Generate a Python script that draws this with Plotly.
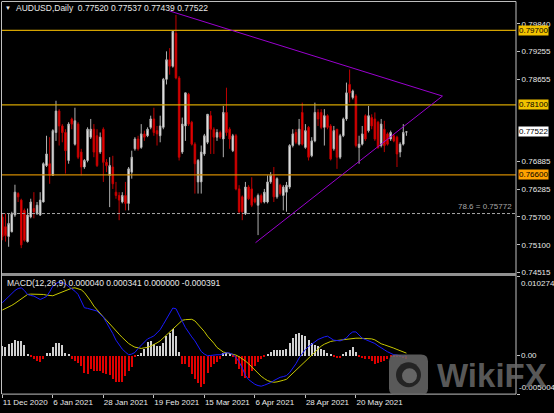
import pandas as pd
import plotly.graph_objects as go

W, H = 554, 413

# ---------------- data ----------------
open_ = [
    0.7570, 0.7549, 0.7528, 0.7538, 0.7574, 0.7620, 0.7606, 0.7584, 0.7517, 0.7570,
    0.7588, 0.7577, 0.7574, 0.7602, 0.7680, 0.7684, 0.7659, 0.7751, 0.7797, 0.7765,
    0.7751, 0.7691, 0.7780, 0.7726, 0.7769, 0.7709, 0.7677, 0.7691, 0.7741, 0.7758,
    0.7744, 0.7709, 0.7758, 0.7687, 0.7659, 0.7677, 0.7623, 0.7616, 0.7602, 0.7616,
    0.7599, 0.7666, 0.7716, 0.7737, 0.7719, 0.7748, 0.7744, 0.7762, 0.7780, 0.7755,
    0.7744, 0.7762, 0.7865, 0.7907, 0.7893, 0.7964, 0.7868, 0.7709, 0.7765, 0.7833,
    0.7773, 0.7726, 0.7645, 0.7645, 0.7705, 0.7730, 0.7787, 0.7758, 0.7741, 0.7751,
    0.7737, 0.7794, 0.7758, 0.7712, 0.7744, 0.7630, 0.7613, 0.7577, 0.7634, 0.7630,
    0.7609, 0.7595, 0.7616, 0.7602, 0.7602, 0.7645, 0.7659, 0.7613, 0.7638, 0.7616,
    0.7623, 0.7634, 0.7723, 0.7751, 0.7726, 0.7794, 0.7719, 0.7762, 0.7701, 0.7733,
    0.7794, 0.7794, 0.7762, 0.7787, 0.7765, 0.7716, 0.7758, 0.7698, 0.7744, 0.7780,
    0.7854, 0.7826, 0.7829, 0.7719, 0.7726, 0.7787, 0.7755, 0.7783, 0.7780, 0.7773,
    0.7723, 0.7758, 0.7748, 0.7737, 0.7744, 0.7741, 0.7709, 0.7726, 0.77520,
]
high_ = [
    0.7577, 0.7577, 0.7577, 0.7581, 0.7639, 0.7623, 0.7609, 0.7588, 0.7588, 0.7609,
    0.7623, 0.7602, 0.7623, 0.7687, 0.7744, 0.7741, 0.7758, 0.7819, 0.7801, 0.7769,
    0.7758, 0.7773, 0.7783, 0.7804, 0.7773, 0.7716, 0.7694, 0.7762, 0.7780, 0.7769,
    0.7758, 0.7751, 0.7762, 0.7694, 0.7698, 0.7701, 0.7645, 0.7623, 0.7623, 0.7645,
    0.7677, 0.7712, 0.7741, 0.7744, 0.7769, 0.7755, 0.7762, 0.7787, 0.7804, 0.7765,
    0.7787, 0.7868, 0.7925, 0.7932, 0.7968, 0.8003, 0.7872, 0.7783, 0.7836, 0.7836,
    0.7776, 0.7730, 0.7694, 0.7723, 0.7748, 0.7790, 0.7797, 0.7762, 0.7758, 0.7755,
    0.7808, 0.7847, 0.7762, 0.7748, 0.7748, 0.7638, 0.7616, 0.7645, 0.7638, 0.7655,
    0.7613, 0.7620, 0.7620, 0.7630, 0.7659, 0.7666, 0.7677, 0.7655, 0.7641, 0.7638,
    0.7645, 0.7726, 0.7758, 0.7758, 0.7780, 0.7815, 0.7769, 0.7765, 0.7741, 0.7815,
    0.7801, 0.7801, 0.7801, 0.7790, 0.7769, 0.7765, 0.7758, 0.7748, 0.7783, 0.7858,
    0.7886, 0.7843, 0.7833, 0.7744, 0.7765, 0.7790, 0.7808, 0.7790, 0.7794, 0.7776,
    0.7780, 0.7776, 0.7751, 0.7755, 0.7748, 0.7744, 0.7730, 0.7769, 0.77537,
]
low_ = [
    0.7520, 0.7517, 0.7506, 0.7537, 0.7570, 0.7602, 0.7503, 0.7517, 0.7515, 0.7567,
    0.7567, 0.7574, 0.7572, 0.7601, 0.7677, 0.7641, 0.7658, 0.7733, 0.7723, 0.7730,
    0.7663, 0.7684, 0.7758, 0.7723, 0.7694, 0.7659, 0.7673, 0.7687, 0.7737, 0.7698,
    0.7677, 0.7705, 0.7645, 0.7666, 0.7591, 0.7630, 0.7609, 0.7563, 0.7599, 0.7584,
    0.7584, 0.7652, 0.7712, 0.7712, 0.7716, 0.7733, 0.7741, 0.7758, 0.7744, 0.7723,
    0.7730, 0.7758, 0.7854, 0.7875, 0.7890, 0.7865, 0.7691, 0.7705, 0.7733, 0.7765,
    0.7723, 0.7620, 0.7620, 0.7620, 0.7701, 0.7726, 0.7705, 0.7705, 0.7733, 0.7737,
    0.7698, 0.7744, 0.7716, 0.7709, 0.7627, 0.7577, 0.7563, 0.7574, 0.7606, 0.7591,
    0.7599, 0.7531, 0.7599, 0.7599, 0.7599, 0.7641, 0.7602, 0.7609, 0.7616, 0.7584,
    0.7581, 0.7630, 0.7719, 0.7726, 0.7723, 0.7723, 0.7716, 0.7691, 0.7698, 0.7730,
    0.7765, 0.7758, 0.7723, 0.7758, 0.7691, 0.7712, 0.7673, 0.7694, 0.7741, 0.7776,
    0.7815, 0.7822, 0.7719, 0.7684, 0.7723, 0.7733, 0.7751, 0.7758, 0.7733, 0.7716,
    0.7719, 0.7709, 0.7723, 0.7733, 0.7730, 0.7677, 0.7698, 0.7723, 0.77439,
]
close_ = [
    0.7528, 0.7530, 0.7556, 0.7577, 0.7623, 0.7613, 0.7510, 0.7520, 0.7574, 0.7602,
    0.7581, 0.7595, 0.7606, 0.7684, 0.7705, 0.7659, 0.7755, 0.7797, 0.7765, 0.7751,
    0.7712, 0.7769, 0.7769, 0.7776, 0.7698, 0.7677, 0.7691, 0.7758, 0.7758, 0.7709,
    0.7680, 0.7741, 0.7687, 0.7680, 0.7680, 0.7641, 0.7616, 0.7606, 0.7616, 0.7599,
    0.7673, 0.7698, 0.7737, 0.7716, 0.7748, 0.7741, 0.7758, 0.7780, 0.7751, 0.7748,
    0.7765, 0.7865, 0.7907, 0.7893, 0.7968, 0.7868, 0.7698, 0.7769, 0.7836, 0.7769,
    0.7726, 0.7684, 0.7691, 0.7709, 0.7744, 0.7790, 0.7758, 0.7741, 0.7751, 0.7741,
    0.7794, 0.7751, 0.7737, 0.7744, 0.7630, 0.7581, 0.7581, 0.7634, 0.7609, 0.7595,
    0.7602, 0.7616, 0.7602, 0.7623, 0.7645, 0.7659, 0.7613, 0.7652, 0.7620, 0.7634,
    0.7638, 0.7723, 0.7748, 0.7730, 0.7758, 0.7726, 0.7755, 0.7698, 0.7733, 0.7794,
    0.7780, 0.7762, 0.7787, 0.7762, 0.7694, 0.7755, 0.7698, 0.7744, 0.7780, 0.7836,
    0.7836, 0.7840, 0.7723, 0.7726, 0.7748, 0.7737, 0.7787, 0.7765, 0.7737, 0.7719,
    0.7769, 0.7723, 0.7726, 0.7751, 0.7733, 0.7705, 0.7726, 0.7751, 0.77522,
]

macd_hist = [
    0.00130, 0.00117, 0.00151, 0.00173, 0.00203, 0.00199, 0.00194, 0.00138, 0.00013, -0.00013,
    -0.00043, -0.00073, -0.00086, -0.00043, 0.00030, 0.00030, 0.00117, 0.00173, 0.00173, 0.00143,
    0.00030, 0.00013, -0.00043, -0.00065, -0.00099, -0.00130, -0.00229, -0.00238, -0.00173, -0.00194,
    -0.00194, -0.00203, -0.00229, -0.00238, -0.00246, -0.00302, -0.00346, -0.00337, -0.00346, -0.00259,
    -0.00194, -0.00151, -0.00022, 0.00009, 0.00030, 0.00086, 0.00186, 0.00194, 0.00151, 0.00130,
    0.00130, 0.00173, 0.00259, 0.00302, 0.00346, 0.00259, 0.00043, -0.00108, -0.00108, -0.00151,
    -0.00238, -0.00302, -0.00359, -0.00410, -0.00367, -0.00229, -0.00151, -0.00108, -0.00086, -0.00043,
    0.00030, 0.00030, 0.00013, -0.00013, -0.00108, -0.00173, -0.00265, -0.00290, -0.00290, -0.00195,
    -0.00130, -0.00086, -0.00043, -0.00013, 0.00013, 0.00043, 0.00073, 0.00073, 0.00073, 0.00073,
    0.00086, 0.00173, 0.00238, 0.00289, 0.00302, 0.00272, 0.00259, 0.00203, 0.00173, 0.00143,
    0.00130, 0.00086, 0.00073, 0.00030, 0.00013, -0.00022, -0.00030, -0.00030, 0.00013, 0.00043,
    0.00073, 0.00117, 0.00043, -0.00013, -0.00030, -0.00043, -0.00043, -0.00073, -0.00108, -0.00100,
    -0.00086, -0.00073, -0.00043, -0.00022, -0.00022, -0.00013, -0.00013, -0.00030, -0.000391,
]
macd_main = [
    0.00691, 0.00734, 0.00773, 0.00812, 0.00851, 0.00877, 0.00886, 0.00851, 0.00799, 0.00786,
    0.00778, 0.00756, 0.00734, 0.00752, 0.00773, 0.00834, 0.00907, 0.00942, 0.00963, 0.00955,
    0.00937, 0.00903, 0.00873, 0.00842, 0.00799, 0.00704, 0.00626, 0.00618, 0.00605, 0.00592,
    0.00583, 0.00540, 0.00505, 0.00432, 0.00367, 0.00289, 0.00203, 0.00143, 0.00086, 0.00048,
    0.00013, 0.00022, 0.00043, 0.00095, 0.00138, 0.00181, 0.00220, 0.00238, 0.00259, 0.00298,
    0.00341, 0.00410, 0.00484, 0.00562, 0.00622, 0.00613, 0.00540, 0.00449, 0.00367, 0.00298,
    0.00246, 0.00194, 0.00121, 0.00056, 0.00022, 0.00000, 0.00004, 0.00013, 0.00013, 0.00013,
    0.00026, 0.00039, 0.00035, 0.00017, -0.00022, -0.00082, -0.00160, -0.00255, -0.00311, -0.00346,
    -0.00372, -0.00389, -0.00397, -0.00384, -0.00372, -0.00350, -0.00324, -0.00302, -0.00281, -0.00272,
    -0.00259, -0.00220, -0.00168, -0.00104, -0.00030, 0.00030, 0.00082, 0.00121, 0.00156, 0.00181,
    0.00212, 0.00233, 0.00246, 0.00255, 0.00229, 0.00203, 0.00199, 0.00194, 0.00212, 0.00233,
    0.00281, 0.00311, 0.00311, 0.00264, 0.00229, 0.00212, 0.00194, 0.00181, 0.00160, 0.00130,
    0.00099, 0.00078, 0.00052, 0.00035, 0.00013, 0.00009, 0.00000, -0.00009, 0.000040,
]
macd_signal = [
    0.00596, 0.00613, 0.00635, 0.00657, 0.00683, 0.00713, 0.00743, 0.00773, 0.00799, 0.00804,
    0.00804, 0.00808, 0.00808, 0.00799, 0.00791, 0.00782, 0.00782, 0.00799, 0.00816, 0.00834,
    0.00851, 0.00868, 0.00881, 0.00886, 0.00877, 0.00860, 0.00825, 0.00773, 0.00713, 0.00648,
    0.00596, 0.00544, 0.00505, 0.00462, 0.00415, 0.00363, 0.00320, 0.00281, 0.00238, 0.00194,
    0.00160, 0.00134, 0.00112, 0.00104, 0.00095, 0.00104, 0.00108, 0.00125, 0.00143, 0.00168,
    0.00194, 0.00233, 0.00272, 0.00311, 0.00354, 0.00397, 0.00436, 0.00462, 0.00471, 0.00475,
    0.00475, 0.00454, 0.00410, 0.00354, 0.00315, 0.00255, 0.00212, 0.00164, 0.00108, 0.00078,
    0.00048, 0.00039, 0.00030, 0.00022, 0.00009, -0.00013, -0.00039, -0.00069, -0.00104, -0.00147,
    -0.00190, -0.00229, -0.00268, -0.00298, -0.00324, -0.00337, -0.00346, -0.00341, -0.00333, -0.00320,
    -0.00307, -0.00268, -0.00229, -0.00186, -0.00147, -0.00104, -0.00065, -0.00022, 0.00017, 0.00056,
    0.00091, 0.00125, 0.00151, 0.00173, 0.00186, 0.00194, 0.00199, 0.00203, 0.00207, 0.00216,
    0.00220, 0.00229, 0.00229, 0.00229, 0.00229, 0.00225, 0.00225, 0.00220, 0.00207, 0.00181,
    0.00156, 0.00143, 0.00125, 0.00112, 0.00099, 0.00082, 0.00065, 0.00048, 0.000341,
]

# trading days (Christmas and New Year holidays skipped)
dates = pd.bdate_range('2020-12-11', '2021-08-31', freq='C',
                       holidays=['2020-12-25', '2021-01-01'])
n_bars = len(close_)
bar_dates = [d.strftime('%Y-%m-%d') for d in dates[:n_bars]]

tick_dates = ['2020-12-11', '2021-01-06', '2021-01-28', '2021-02-19',
              '2021-03-15', '2021-04-06', '2021-04-28', '2021-05-20']
tick_text = ['11 Dec 2020', '6 Jan 2021', '28 Jan 2021', '19 Feb 2021',
             '15 Mar 2021', '6 Apr 2021', '28 Apr 2021', '20 May 2021']

price_ticks = [0.79840, 0.79255, 0.78655, 0.76885, 0.76285, 0.75700, 0.75100, 0.74515]
level_prices = [0.79700, 0.78100, 0.76600]
level_names = ['0.79700', '0.78100', '0.76600']
fib_price = 0.75772
fib_label = '78.6 = 0.75772'
last_price = 0.77522
macd_labels = [0.010274, 0.0, -0.005004]
macd_label_text = ['0.010274', '0.00', '-0.005004']

# triangle trend lines: (bar number, price) anchors
upper_line_x = [52.9, 139.4]
upper_line_y = [0.80117, 0.78291]
lower_line_x = [80.2, 139.4]
lower_line_y = [0.75147, 0.78291]

title_text = 'AUDUSD,Daily  0.77520 0.77537 0.77439 0.77522'
macd_title = 'MACD(12,26,9) 0.000040 0.000341 0.000000 -0.000391'

# ---------------- layout helpers ----------------
def py(px):
    return 1 - px / H

def pxx(px):
    return px / W

X0, X1 = 2, 516
MAIN_T, MAIN_B = 2, 276
MACD_T, MACD_B = 279, 397
FONT = 'Liberation Sans'
FS = 8
GRAY = '#c0c0c0'
TXT = '#e8e8e8'

fig = go.Figure()
fig.add_trace(go.Candlestick(
    x=bar_dates, open=open_, high=high_, low=low_, close=close_,
    xaxis='x', yaxis='y',
    increasing=dict(line=dict(color='#b0b0b0', width=1), fillcolor='#ffffff'),
    decreasing=dict(line=dict(color='#c00000', width=1), fillcolor='#ff0000'),
    whiskerwidth=0, hoverinfo='skip',
))
hist_colors = ['#d0d0d0' if v >= 0 else '#e00000' for v in macd_hist]
fig.add_trace(go.Bar(x=bar_dates, y=macd_hist, marker=dict(color=hist_colors, line=dict(width=0)),
                     width=0.33, xaxis='x', yaxis='y2', hoverinfo='skip'))
fig.add_trace(go.Scatter(x=bar_dates, y=macd_signal, mode='lines',
                         line=dict(color='#c8c800', width=1), xaxis='x', yaxis='y2', hoverinfo='skip'))
fig.add_trace(go.Scatter(x=bar_dates, y=macd_main, mode='lines',
                         line=dict(color='#1a1aff', width=1), xaxis='x', yaxis='y2', hoverinfo='skip'))

shapes = []
level_colors = ['#d4a300', '#d4a300', '#d08a00']
for p, c in zip(level_prices, level_colors):
    shapes.append(dict(type='line', xref='paper', yref='y', x0=pxx(X0), x1=pxx(X1), y0=p, y1=p,
                       line=dict(color=c, width=1.2)))
shapes.append(dict(type='line', xref='paper', yref='y', x0=pxx(X0), x1=pxx(X1), y0=fib_price, y1=fib_price,
                   line=dict(color='#a8a8a8', width=1, dash='3px,2px')))
shapes.append(dict(type='line', xref='x', yref='y', x0=upper_line_x[0], x1=upper_line_x[1],
                   y0=upper_line_y[0], y1=upper_line_y[1], line=dict(color='#9a00d0', width=1)))
shapes.append(dict(type='line', xref='x', yref='y', x0=lower_line_x[0], x1=lower_line_x[1],
                   y0=lower_line_y[0], y1=lower_line_y[1], line=dict(color='#9a00d0', width=1)))

def hline(ypx, x0=X0, x1=X1, color=GRAY, width=1):
    shapes.append(dict(type='line', xref='paper', yref='paper', x0=pxx(x0), x1=pxx(x1),
                       y0=py(ypx), y1=py(ypx), line=dict(color=color, width=width)))

def vline(xpx, y0, y1, color=GRAY, width=1):
    shapes.append(dict(type='line', xref='paper', yref='paper', x0=pxx(xpx), x1=pxx(xpx),
                       y0=py(y0), y1=py(y1), line=dict(color=color, width=width)))

hline(1.5, x1=X1)
vline(1.5, 1.5, 397)
vline(516, 1.5, 397)
hline(276.5, color='#909090', width=3)
hline(397)

# watermark logo: rounded square with a dark ring
def rounded_rect(x0, y0, x1, y1, r):
    X = lambda v: f'{pxx(v):.5f}'
    Y = lambda v: f'{py(v):.5f}'
    return (f'M {X(x0 + r)},{Y(y0)} L {X(x1 - r)},{Y(y0)} Q {X(x1)},{Y(y0)} {X(x1)},{Y(y0 + r)} '
            f'L {X(x1)},{Y(y1 - r)} Q {X(x1)},{Y(y1)} {X(x1 - r)},{Y(y1)} '
            f'L {X(x0 + r)},{Y(y1)} Q {X(x0)},{Y(y1)} {X(x0)},{Y(y1 - r)} '
            f'L {X(x0)},{Y(y0 + r)} Q {X(x0)},{Y(y0)} {X(x0 + r)},{Y(y0)} Z')

shapes.append(dict(type='path', xref='paper', yref='paper', path=rounded_rect(389, 357, 428, 398, 7),
                   fillcolor='rgba(105,105,105,0.85)', line=dict(width=0), layer='above'))
shapes.append(dict(type='circle', xref='paper', yref='paper', x0=pxx(396), x1=pxx(421), y0=py(390), y1=py(365),
                   fillcolor='rgba(30,30,30,0.9)', line=dict(width=0), layer='above'))
shapes.append(dict(type='circle', xref='paper', yref='paper', x0=pxx(402), x1=pxx(417), y0=py(386), y1=py(371),
                   fillcolor='rgba(105,105,105,0.95)', line=dict(width=0), layer='above'))

annotations = []
annotations.append(dict(text='▼', xref='paper', yref='paper', x=pxx(3), y=py(8), xanchor='left',
                        yanchor='middle', showarrow=False, font=dict(family=FONT, size=6, color=TXT)))
annotations.append(dict(text=title_text, xref='paper', yref='paper', x=pxx(14), y=py(8), xanchor='left',
                        yanchor='middle', showarrow=False, font=dict(family=FONT, size=8.5, color=TXT)))
annotations.append(dict(text=macd_title, xref='paper', yref='paper', x=pxx(5), y=py(285), xanchor='left',
                        yanchor='middle', showarrow=False, font=dict(family=FONT, size=8.5, color=TXT)))
annotations.append(dict(text=fib_label, xref='paper', yref='y', x=pxx(514), y=fib_price, xanchor='right',
                        yanchor='bottom', yshift=1, showarrow=False, font=dict(family=FONT, size=FS, color='#a8a8a8')))
box_colors = ['#f2c200', '#f2c200', '#ffa200']
for p, t, c in zip(level_prices, level_names, box_colors):
    annotations.append(dict(text=t, xref='paper', yref='y', x=pxx(518), y=p, xanchor='left', yanchor='middle',
                            showarrow=False, bgcolor=c, borderpad=0,
                            font=dict(family=FONT, size=FS, color='black')))
annotations.append(dict(text=f'{last_price:.5f}', xref='paper', yref='y', x=pxx(518), y=last_price,
                        xanchor='left', yanchor='middle', showarrow=False, bgcolor='white', borderpad=0,
                        font=dict(family=FONT, size=FS, color='black')))
macd_anchor = ['top', 'middle', 'bottom']
macd_label_x = [519, 519, 516.5]
for v, t, a, lx in zip(macd_labels, macd_label_text, macd_anchor, macd_label_x):
    annotations.append(dict(text=t, xref='paper', yref='y2', x=pxx(lx), y=v, xanchor='left', yanchor=a,
                            showarrow=False, font=dict(family=FONT, size=FS, color=TXT)))
annotations.append(dict(text='<b>WikiFX</b>', xref='paper', yref='paper', x=pxx(435), y=py(378),
                        xanchor='left', yanchor='middle', showarrow=False,
                        font=dict(family=FONT, size=33, color='rgba(105,105,105,0.85)')))

fig.update_layout(
    width=W, height=H, margin=dict(l=0, r=0, t=0, b=0),
    paper_bgcolor='black', plot_bgcolor='black', showlegend=False,
    bargap=0, shapes=shapes, annotations=annotations,
    xaxis=dict(domain=[pxx(X0), pxx(X1)], range=[-0.1, 162.7], type='category', anchor='y2',
               rangeslider=dict(visible=False), showgrid=False, zeroline=False, showline=False,
               tickmode='array', tickvals=tick_dates, ticktext=tick_text, tickangle=0,
               ticks='outside', ticklen=3, tickcolor=GRAY, ticklabelposition='outside right',
               tickfont=dict(family=FONT, size=FS, color=TXT)),
    yaxis=dict(domain=[py(MAIN_B), py(MAIN_T)], range=[0.74476, 0.80308], side='right', anchor='x',
               showgrid=False, zeroline=False, showline=False, tickmode='array', tickvals=price_ticks,
               ticktext=[f'{v:.5f}' for v in price_ticks], ticks='outside', ticklen=3, tickcolor=GRAY,
               tickfont=dict(family=FONT, size=FS, color=TXT)),
    yaxis2=dict(domain=[py(MACD_B), py(MACD_T)], range=[-0.005004, 0.010274], side='right', anchor='x',
                showgrid=False, zeroline=False, showline=False, tickmode='array', tickvals=macd_labels,
                showticklabels=False, ticks='outside', ticklen=3, tickcolor=GRAY),
)

fig.write_html('out.html', config=dict(displayModeBar=False),
               post_script="document.body.style.margin='0px';document.body.style.overflow='hidden';")
